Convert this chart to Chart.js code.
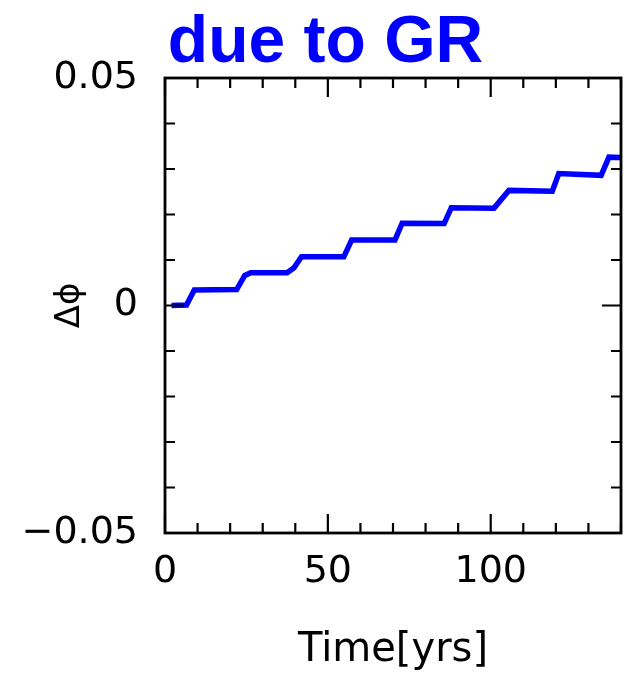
<!DOCTYPE html>
<html>
<head>
<meta charset="utf-8">
<script src="https://cdn.jsdelivr.net/npm/chart.js@4/dist/chart.umd.min.js"></script>
<style>
  body { margin: 0; background: #fff; }
</style>
</head>
<body>
<canvas id="grChart" width="638" height="675"></canvas>
<script>
// values
const timeYrs = [2.0, 6.6, 9.0, 22.0, 24.5, 26.3, 37.5, 39.6, 41.9, 54.9, 57.3, 70.6, 72.8, 85.7, 87.9, 101.0, 105.6, 118.9, 120.9, 133.9, 136.3, 140];
const deltaPhi = [0, 0.0001, 0.0034, 0.0035, 0.0066, 0.0072, 0.0072, 0.0083, 0.0107, 0.0107, 0.0144, 0.0144, 0.0181, 0.0180, 0.0215, 0.0214, 0.0253, 0.0251, 0.0290, 0.0286, 0.0326, 0.0325];
const xLabelTicks = [0, 50, 100];
const yLabelTicks = [-0.05, 0, 0.05];

Chart.defaults.font.family = 'DejaVu Sans';
Chart.defaults.color = '#000';

function isMajor(v, list) {
  return list.some(m => Math.abs(m - v) < 1e-9);
}

// draws the boxed frame with inward ticks on all four sides
const frameTicks = {
  id: 'frameTicks',
  afterDatasetsDraw(chart) {
    const { ctx, chartArea: a, scales: { x, y } } = chart;
    ctx.save();
    ctx.strokeStyle = '#000';
    ctx.lineWidth = 2.2;
    ctx.beginPath();
    x.ticks.forEach(t => {
      const px = x.getPixelForValue(t.value);
      const len = isMajor(t.value, xLabelTicks) ? 19 : 10;
      ctx.moveTo(px, a.bottom); ctx.lineTo(px, a.bottom - len);
      ctx.moveTo(px, a.top); ctx.lineTo(px, a.top + len);
    });
    y.ticks.forEach(t => {
      const py = y.getPixelForValue(t.value);
      const len = isMajor(t.value, yLabelTicks) ? 19 : 10;
      ctx.moveTo(a.left, py); ctx.lineTo(a.left + len, py);
      ctx.moveTo(a.right, py); ctx.lineTo(a.right - len, py);
    });
    ctx.stroke();
    ctx.lineWidth = 2.8;
    ctx.strokeRect(a.left, a.top, a.right - a.left, a.bottom - a.top);
    ctx.restore();
  }
};

const headline = {
  id: 'headline',
  afterDraw(chart) {
    const ctx = chart.ctx;
    ctx.save();
    ctx.font = 'bold 66px "Liberation Sans"';
    ctx.fillStyle = '#0000ff';
    ctx.textAlign = 'center';
    ctx.textBaseline = 'alphabetic';
    ctx.fillText('due to GR', 325.5, 62);
    ctx.restore();
  }
};

new Chart(document.getElementById('grChart'), {
  type: 'line',
  data: {
    datasets: [{
      data: timeYrs.map((t, i) => ({ x: t, y: deltaPhi[i] })),
      borderColor: '#0000ff',
      borderWidth: 5.5,
      pointRadius: 0,
      tension: 0,
      fill: false
    }]
  },
  options: {
    responsive: false,
    animation: false,
    devicePixelRatio: 1,
    layout: { padding: { top: 78, right: 17, left: 0, bottom: 0 } },
    plugins: { legend: { display: false }, tooltip: { enabled: false }, title: { display: false } },
    scales: {
      x: {
        type: 'linear',
        min: 0,
        max: 140,
        grid: { display: false, drawTicks: false },
        border: { display: false },
        ticks: {
          stepSize: 10,
          autoSkip: false,
          maxRotation: 0,
          padding: 16,
          font: { size: 38 },
          callback: v => isMajor(v, xLabelTicks) ? String(v) : ''
        },
        title: { display: true, text: 'Time[yrs]', font: { size: 40 }, padding: { top: 0, bottom: 0 } },
        afterFit(scale) { scale.height = 142; }
      },
      y: {
        min: -0.05,
        max: 0.05,
        grid: { display: false, drawTicks: false },
        border: { display: false },
        ticks: {
          stepSize: 0.01,
          autoSkip: false,
          padding: 27,
          font: { size: 38 },
          callback: v => {
            if (!isMajor(v, yLabelTicks)) return '';
            if (Math.abs(v) < 1e-9) return '0';
            return (v < 0 ? '\u2212' : '') + Math.abs(v).toFixed(2);
          }
        },
        title: { display: true, text: 'Δϕ', font: { size: 34 }, padding: { top: 50, bottom: 0 } },
        afterFit(scale) { scale.width = 165; }
      }
    }
  },
  plugins: [frameTicks, headline]
});
</script>
</body>
</html>
